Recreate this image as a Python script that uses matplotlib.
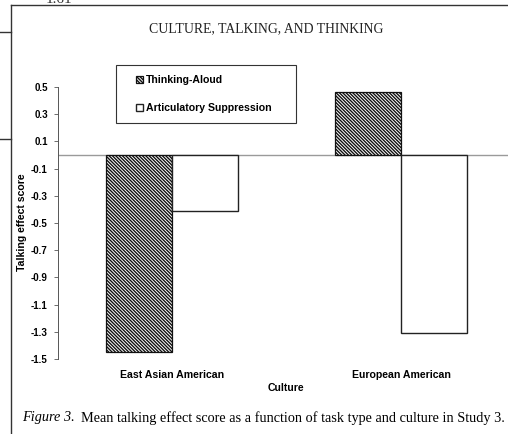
import matplotlib
matplotlib.use('Agg')
import numpy as np
import matplotlib.pyplot as plt
from matplotlib.lines import Line2D
from matplotlib.patches import Rectangle

# --- data ---
cultures = ['East Asian American', 'European American']
thinking_aloud = [-1.45, 0.46]
artic_suppression = [-0.41, -1.31]
yticks = [0.5, 0.3, 0.1, -0.1, -0.3, -0.5, -0.7, -0.9, -1.1, -1.3, -1.5]

W, H = 508, 434
plt.rcParams['hatch.linewidth'] = 1.0
sans = 'Liberation Sans'
serif = 'Liberation Serif'

fig = plt.figure(figsize=(W / 100, H / 100), dpi=100)

def fx(px):
    return px / W

def fy(py):
    return 1 - py / H

# page frame bits from the scan
for xs, ys in [((11, 508), (5, 5)), ((11, 11), (5, 434)), ((0, 11), (32, 32)), ((0, 11), (139, 139))]:
    fig.add_artist(Line2D([fx(x) for x in xs], [fy(y) for y in ys], color='#333333', lw=1.0))
fig.text(fx(46), fy(3), '1.61', family=serif, fontsize=11, va='baseline', ha='left', color='#333333')

fig.text(fx(266), fy(29), 'CULTURE, TALKING, AND THINKING', family=serif, fontsize=9.9,
         ha='center', va='center', color='#222222')

# axes: x range -0.5..1.5, y range -1.5..0.5
ax = fig.add_axes([fx(57.5), 1 - 359 / H, 458 / W, 272 / H])
x = np.arange(len(cultures))
w = 0.29
ax.bar(x - w / 2, thinking_aloud, w, color='white', edgecolor='#111111', hatch='\\' * 10,
       lw=0.9, label='Thinking-Aloud', zorder=3)
ax.bar(x + w / 2, artic_suppression, w, color='white', edgecolor='#222222',
       lw=1.0, label='Articulatory Suppression', zorder=3)
ax.axhline(0, color='#9a9a9a', lw=1.0, zorder=2)

ax.set_xlim(-0.5, 1.5)
ax.set_ylim(-1.5, 0.5)
ax.set_yticks(yticks)
ax.set_yticklabels([f'{v:.1f}' for v in yticks], family=sans, fontweight='bold', fontsize=7)
ax.set_xticks(x)
ax.set_xticklabels(cultures, family=sans, fontweight='bold', fontsize=7.6)
ax.tick_params(axis='x', length=0, pad=8)
ax.tick_params(axis='y', length=3, width=0.6, direction='out', pad=4, color='#555555')
for s in ['top', 'right', 'bottom']:
    ax.spines[s].set_visible(False)
ax.spines['left'].set_linewidth(0.7)
ax.spines['left'].set_color('#555555')

fig.text(fx(22.5), fy(222), 'Talking effect score', family=sans, fontweight='bold', fontsize=7.6,
         rotation=90, ha='center', va='center')
fig.text(fx(286), fy(388), 'Culture', family=sans, fontweight='bold', fontsize=7.6,
         ha='center', va='center')

# legend box drawn by hand, legend entries inside
fig.add_artist(Rectangle((fx(116), fy(123)), fx(296) - fx(116), fy(65) - fy(123),
                         transform=fig.transFigure, fill=False, ec='#333333', lw=0.8))
leg = fig.legend(loc='upper left', bbox_to_anchor=(fx(132), fy(71)), frameon=False,
                 prop={'family': sans, 'weight': 'bold', 'size': 7.6},
                 handlelength=0.65, handleheight=0.65, handletextpad=0.25, labelspacing=1.7,
                 borderaxespad=0)

fig.text(fx(22), fy(418), 'Figure 3.', family=serif, style='italic', fontsize=10.3,
         ha='left', va='center')
fig.text(fx(505), fy(418), 'Mean talking effect score as a function of task type and culture in Study 3.',
         family=serif, fontsize=10.3, ha='right', va='center')

fig.savefig('out.png', dpi=100)
